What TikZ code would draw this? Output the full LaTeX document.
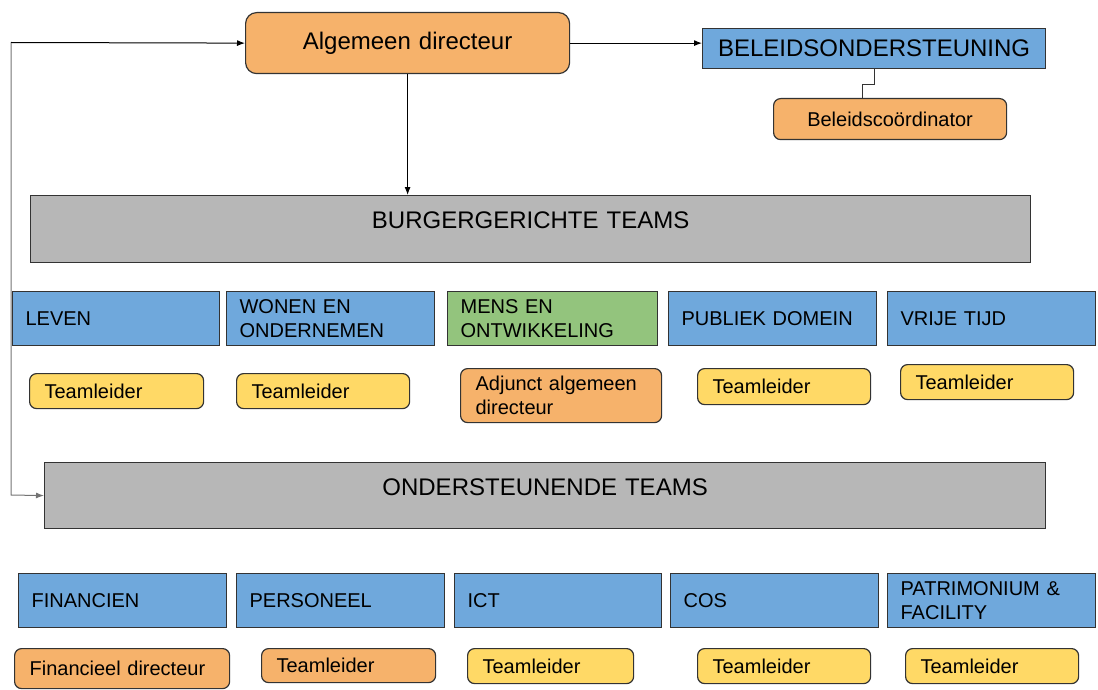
\documentclass[tikz,border=0pt]{standalone}
\usepackage{fontspec}
\setmainfont{Liberation Sans}
\usetikzlibrary{arrows.meta}
\definecolor{cblue}{HTML}{6FA8DC}
\definecolor{cgreen}{HTML}{93C47D}
\definecolor{corange}{HTML}{F6B26B}
\definecolor{cyellow}{HTML}{FFD966}
\definecolor{cgray}{HTML}{B7B7B7}
\definecolor{cedge}{HTML}{333333}
\tikzset{
  base/.style={draw=cedge, line width=1.2pt, anchor=north west, inner ysep=0pt, align=left},
  big/.style={font=\fontsize{24}{28}\selectfont},
  small/.style={font=\fontsize{20}{24}\selectfont},
  team/.style={base, small, fill=cblue, inner xsep=13pt},
  role/.style={base, small, rounded corners=7pt, inner xsep=15pt},
  head/.style={base, big, align=center, inner xsep=0pt},
  conn/.style={line width=1pt, -{Latex[length=8pt,width=6pt]}},
}
\begin{document}
\begin{tikzpicture}[x=1pt,y=-1pt]
\useasboundingbox (0,0) rectangle (1098,690);
% top level
\node[head, fill=corange, rounded corners=11pt, minimum width=324pt, minimum height=61pt, text width=324pt] (ad) at (245,12) {Algemeen directeur};
\node[head, fill=cblue, minimum width=343pt, minimum height=40pt, text width=343pt] (bo) at (702,28) {BELEIDSONDERSTEUNING};
\node[role, fill=corange, align=center, inner xsep=0pt, minimum width=233pt, minimum height=41pt, text width=233pt] (bc) at (773,98) {Beleidscoördinator};
\node[head, fill=cgray, minimum width=1000pt, minimum height=67pt, text width=1000pt, text depth=17pt] (bg) at (30,195) {BURGERGERICHTE TEAMS};
\node[head, fill=cgray, minimum width=1001pt, minimum height=66pt, text width=1001pt, text depth=17pt] (od) at (44,462) {ONDERSTEUNENDE TEAMS};
% row 1 teams
\node[team, minimum width=207pt, minimum height=54pt, text width=181pt] (l1) at (12,291) {LEVEN};
\node[team, minimum width=208pt, minimum height=54pt, text width=182pt] (l2) at (226,291) {WONEN EN\\ONDERNEMEN};
\node[team, fill=cgreen, minimum width=210pt, minimum height=54pt, text width=184pt] (l3) at (447,291) {MENS EN\\ONTWIKKELING};
\node[team, minimum width=208pt, minimum height=54pt, text width=182pt] (l4) at (668,291) {PUBLIEK DOMEIN};
\node[team, minimum width=208pt, minimum height=54pt, text width=182pt] (l5) at (887,291) {VRIJE TIJD};
% row 1 roles
\node[role, fill=cyellow, minimum width=174pt, minimum height=35pt, text width=144pt] (t1) at (29,373) {Teamleider};
\node[role, fill=cyellow, minimum width=173pt, minimum height=35pt, text width=143pt] (t2) at (236,373) {Teamleider};
\node[role, fill=corange, minimum width=201pt, minimum height=54pt, text width=171pt] (t3) at (460,368) {Adjunct algemeen\\directeur};
\node[role, fill=cyellow, minimum width=173pt, minimum height=36pt, text width=143pt] (t4) at (697,368) {Teamleider};
\node[role, fill=cyellow, minimum width=173pt, minimum height=35pt, text width=143pt] (t5) at (900,364) {Teamleider};
% row 2 teams
\node[team, minimum width=208pt, minimum height=54pt, text width=182pt] (b1) at (18,573) {FINANCIEN};
\node[team, minimum width=208pt, minimum height=54pt, text width=182pt] (b2) at (236,573) {PERSONEEL};
\node[team, minimum width=207pt, minimum height=54pt, text width=181pt] (b3) at (454,573) {ICT};
\node[team, minimum width=208pt, minimum height=54pt, text width=182pt] (b4) at (670,573) {COS};
\node[team, minimum width=208pt, minimum height=54pt, text width=182pt] (b5) at (887,573) {PATRIMONIUM \&\\FACILITY};
% row 2 roles
\node[role, fill=corange, minimum width=215pt, minimum height=40pt, text width=185pt] (s1) at (14,648) {Financieel directeur};
\node[role, fill=corange, minimum width=174pt, minimum height=34pt, text width=144pt] (s2) at (261,648) {Teamleider};
\node[role, fill=cyellow, minimum width=166pt, minimum height=35pt, text width=136pt] (s3) at (467,648) {Teamleider};
\node[role, fill=cyellow, minimum width=173pt, minimum height=35pt, text width=143pt] (s4) at (697,648) {Teamleider};
\node[role, fill=cyellow, minimum width=173pt, minimum height=35pt, text width=143pt] (s5) at (905,648) {Teamleider};
% connectors
\coordinate (c1) at (11,42.5);
\coordinate (c2) at (11,495);
\draw[conn, draw=black!55] (c1) -- (c2) -- (od.west);
\draw[conn] (c1) -- (ad.west);
\draw[conn] (ad.east) -- (ad.east -| bo.west);
\draw[conn] (ad.south) -- (ad.south |- bg.north);
\draw[line width=1pt, draw=cedge] (bo.south) -- ++(0,15) -| ([xshift=-28pt]bc.north);
\end{tikzpicture}
\end{document}
